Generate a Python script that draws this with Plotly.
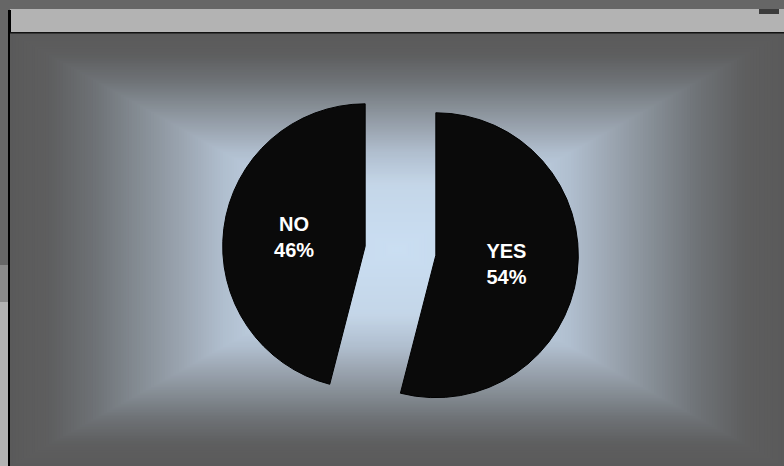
import plotly.graph_objects as go

# Survey answers
labels = ["YES", "NO"]
shares = [54, 46]

W, H = 784, 466


def px_x(x):
    return x / W


def px_y(y):
    return 1 - y / H


def rect(x0, y0, x1, y1, color, layer="below"):
    return dict(type="rect", xref="paper", yref="paper",
                x0=px_x(x0), x1=px_x(x1), y0=px_y(y1), y1=px_y(y0),
                fillcolor=color, line=dict(width=0), layer=layer)


# Rectangular "from centre" gradient for the chart panel
stops = [
    (0.00, (202, 222, 242)),
    (0.30, (196, 214, 232)),
    (0.45, (176, 190, 206)),
    (0.55, (156, 166, 178)),
    (0.65, (136, 144, 152)),
    (0.78, (110, 114, 118)),
    (0.90, (94, 94, 95)),
    (1.00, (90, 90, 90)),
]


def grad_color(t):
    for (t0, c0), (t1, c1) in zip(stops[:-1], stops[1:]):
        if t0 <= t <= t1:
            f = (t - t0) / (t1 - t0)
            c = [round(a + (b - a) * f) for a, b in zip(c0, c1)]
            return "rgb({},{},{})".format(*c)
    return "rgb(90,90,90)"


panel_x0, panel_y0, panel_x1, panel_y1 = 10, 33, 784, 466
cx = (panel_x0 + panel_x1) / 2
cy = (panel_y0 + panel_y1) / 2
hw = (panel_x1 - panel_x0) / 2
hh = (panel_y1 - panel_y0) / 2

shapes = []
# frame pieces around the panel
shapes.append(rect(0, 265, 8, 302, "#8a8a8a"))
shapes.append(rect(0, 302, 8, 466, "#b3b3b3"))
shapes.append(rect(10, 9, 784, 32, "#b3b3b3"))
shapes.append(rect(759, 9, 779, 14, "#3c3c3c"))

N = 140
for k in range(N):
    t_out = 1 - k / N
    t_mid = 1 - (k + 0.5) / N
    shapes.append(rect(cx - t_out * hw, cy - t_out * hh,
                       cx + t_out * hw, cy + t_out * hh, grad_color(t_mid)))

# panel border lines
shapes.append(rect(8, 32, 784, 33.5, "#111111"))
shapes.append(rect(8, 10, 10, 466, "#000000"))
shapes.append(rect(9, 10, 11, 32, "#000000"))

fig = go.Figure(go.Pie(
    labels=labels,
    values=shares,
    sort=False,
    direction="clockwise",
    rotation=0,
    pull=[0.25, 0.25],
    marker=dict(colors=["#0a0a0a", "#0a0a0a"], line=dict(color="#000000", width=1)),
    textinfo="label+percent",
    textposition="inside",
    insidetextorientation="horizontal",
    insidetextfont=dict(color="#ffffff", size=20,
                        family="Liberation Sans, Arial, sans-serif", weight="bold"),
    hoverinfo="skip",
    showlegend=False,
    domain=dict(x=[0.2837, 0.7380], y=[0.0796, 0.8442]),
))

fig.update_layout(
    width=W, height=H,
    margin=dict(l=0, r=0, t=0, b=0),
    paper_bgcolor="#666666",
    plot_bgcolor="#666666",
    shapes=shapes,
)

fig.write_html("out.html")
